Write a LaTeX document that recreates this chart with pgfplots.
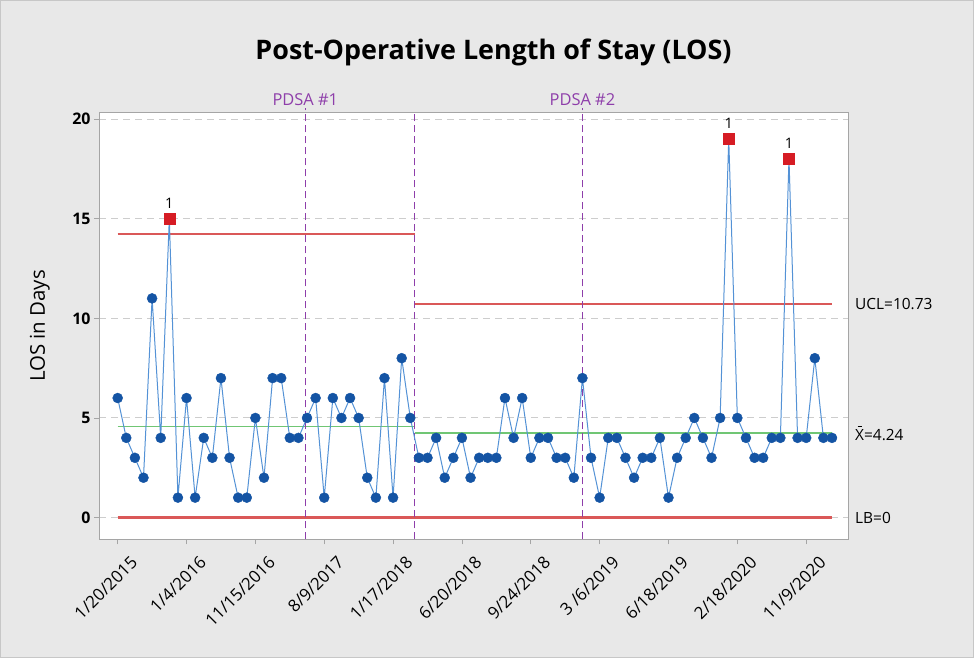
\documentclass[border=0pt]{standalone}
\usepackage{fontspec}
\setmainfont{Open Sans}
\usepackage{pgfplots}
\usepackage{pgfplotstable}
\pgfplotsset{compat=1.18}
\definecolor{bgfig}{RGB}{232,232,232}
\definecolor{ptblue}{RGB}{20,84,164}
\definecolor{lnblue}{RGB}{84,146,214}
\definecolor{ptred}{RGB}{214,28,36}
\definecolor{limred}{RGB}{218,88,88}
\definecolor{limgreen}{RGB}{112,198,116}
\definecolor{pdsacol}{RGB}{142,62,170}
\definecolor{axgray}{RGB}{165,165,165}
\definecolor{gridgray}{RGB}{205,205,205}
\newcommand{\xbar}{\leavevmode\setbox0\hbox{X}\rlap{\hbox to \wd0{\hss\raisebox{\dimexpr\ht0+2.5bp\relax}{\rule{0.45\wd0}{0.8bp}}\hss}}X}
\pgfplotstableread{
x y c
1 6 n
2 4 n
3 3 n
4 2 n
5 11 n
6 4 n
7 15 r
8 1 n
9 6 n
10 1 n
11 4 n
12 3 n
13 7 n
14 3 n
15 1 n
16 1 n
17 5 n
18 2 n
19 7 n
20 7 n
21 4 n
22 4 n
23 5 n
24 6 n
25 1 n
26 6 n
27 5 n
28 6 n
29 5 n
30 2 n
31 1 n
32 7 n
33 1 n
34 8 n
35 5 n
36 3 n
37 3 n
38 4 n
39 2 n
40 3 n
41 4 n
42 2 n
43 3 n
44 3 n
45 3 n
46 6 n
47 4 n
48 6 n
49 3 n
50 4 n
51 4 n
52 3 n
53 3 n
54 2 n
55 7 n
56 3 n
57 1 n
58 4 n
59 4 n
60 3 n
61 2 n
62 3 n
63 3 n
64 4 n
65 1 n
66 3 n
67 4 n
68 5 n
69 4 n
70 3 n
71 5 n
72 19 r
73 5 n
74 4 n
75 3 n
76 3 n
77 4 n
78 4 n
79 18 r
80 4 n
81 4 n
82 8 n
83 4 n
84 4 n
}\loschart
\pgfplotstableread{
x ucl cl lb
1 14.25 4.57 0
35.5 14.25 4.57 0
}\limA
\pgfplotstableread{
x ucl cl lb
35.5 10.73 4.24 0
84 10.73 4.24 0
}\limB
\begin{document}
\begin{tikzpicture}[x=1bp,y=1bp]
\fill[bgfig] (0,0) rectangle (974,658);
\draw[black!22, line width=0.8bp] (0.4,0.4) rectangle (973.6,657.6);
\node[font=\bfseries\fontsize{27}{30}\selectfont] at (493.5,606) {Post-Operative Length of Stay (LOS)};
\begin{axis}[
  at={(99bp,118.7bp)}, anchor=south west,
  width=749.7bp, height=426.6bp, scale only axis,
  xmin=-1.17, xmax=85.94, ymin=-1.09, ymax=20.32,
  clip=false,
  axis background/.style={fill=white},
  axis line style={axgray, line width=0.8bp},
  xtick={1,9,...,81},
  xticklabels={1/20/2015,1/4/2016,11/15/2016,8/9/2017,1/17/2018,6/20/2018,9/24/2018,3 /6/2019,6/18/2019,2/18/2020,11/9/2020},
  xticklabel style={rotate=45, anchor=north east, inner sep=0pt, yshift=-16bp, xshift=1bp, font=\fontsize{17}{19}\selectfont},
  ytick={0,5,10,15,20},
  yticklabel style={font=\bfseries\fontsize{16}{18}\selectfont},
  /pgf/number format/assume math mode=true,
  tick align=outside, xtick pos=bottom, ytick pos=left,
  major tick length=5bp,
  tick style={axgray, line width=0.8bp},
  ymajorgrids,
  grid style={gridgray, dash pattern=on 7bp off 5bp, line width=0.9bp},
  ylabel={LOS in Days},
  ylabel style={at={(axis description cs:-0.079,0.5)}, anchor=center, font=\fontsize{20.5}{22}\selectfont},
]
% control limits
\addplot[color=limred, line width=1.8bp, mark=none] table[x=x,y=ucl]{\limA};
\addplot[color=limred, line width=1.8bp, mark=none] table[x=x,y=ucl]{\limB};
\addplot[color=limred, line width=2.2bp, mark=none] table[x=x,y=lb]{\limA};
\addplot[color=limred, line width=2.2bp, mark=none] table[x=x,y=lb]{\limB};
\addplot[color=limgreen, line width=1.6bp, mark=none] table[x=x,y=cl]{\limA};
\addplot[color=limgreen, line width=1.6bp, mark=none] table[x=x,y=cl]{\limB};
% PDSA / stage lines
\addplot[color=pdsacol, line width=1.4bp, dash pattern=on 7bp off 4bp, mark=none] coordinates {(22.8,-1.09) (22.8,20.55)};
\addplot[color=pdsacol, line width=1.4bp, dash pattern=on 7bp off 4bp, mark=none] coordinates {(35.5,-1.09) (35.5,20.32)};
\addplot[color=pdsacol, line width=1.4bp, dash pattern=on 7bp off 4bp, mark=none] coordinates {(55,-1.09) (55,20.55)};
% data
\addplot[color=lnblue, line width=1bp, mark=none] table[x=x,y=y]{\loschart};
\addplot[only marks, scatter, scatter src=explicit symbolic,
  scatter/classes={n={mark=*, mark size=5bp, draw=ptblue, fill=ptblue},
                   r={mark=square*, mark size=5.5bp, draw=ptred, fill=ptred}}]
  table[x=x,y=y,meta=c]{\loschart};
\addplot[draw=none, mark=none, restrict y to domain=12:30, nodes near coords={1},
  every node near coord/.append style={black, anchor=south, yshift=7bp, font=\fontsize{14.5}{16}\selectfont}]
  table[x=x,y=y]{\loschart};
% labels
\node[text=pdsacol, anchor=base, font=\fontsize{16.5}{18}\selectfont] at (axis cs:22.8,20.32) [yshift=7.5bp] {PDSA \#1};
\node[text=pdsacol, anchor=base, font=\fontsize{16.5}{18}\selectfont] at (axis cs:55,20.32) [yshift=7.5bp] {PDSA \#2};
\node[anchor=west, inner sep=0pt, font=\fontsize{15.5}{18}\selectfont] at (axis cs:85.94,10.73) [xshift=6.3bp] {UCL=10.73};
\node[anchor=west, inner sep=0pt, font=\fontsize{15.5}{18}\selectfont] at (axis cs:85.94,4.24) [xshift=6.3bp] {\xbar=4.24};
\node[anchor=west, inner sep=0pt, font=\fontsize{15.5}{18}\selectfont] at (axis cs:85.94,0) [xshift=6.3bp] {LB=0};
\end{axis}
\end{tikzpicture}
\end{document}
